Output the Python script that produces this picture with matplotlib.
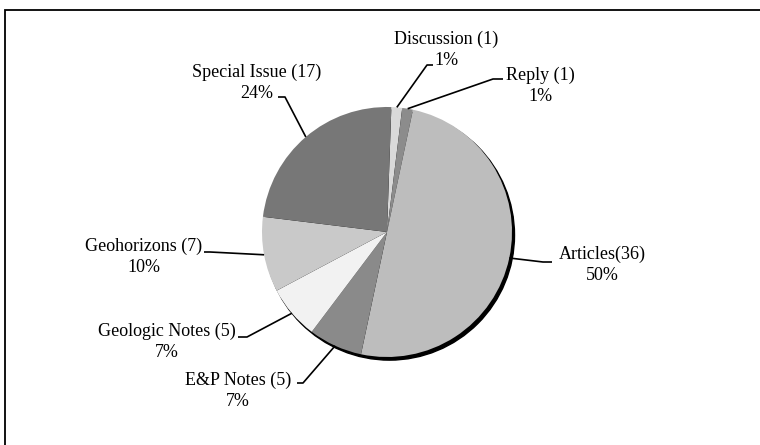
import matplotlib.pyplot as plt
import numpy as np
from matplotlib.patches import Circle, Rectangle

# Publication counts by type
categories = ["Discussion", "Reply", "Articles", "E&P Notes",
              "Geologic Notes", "Geohorizons", "Special Issue"]
label_names = ["Discussion (1)", "Reply (1)", "Articles(36)", "E&P Notes (5)",
               "Geologic Notes (5)", "Geohorizons (7)", "Special Issue (17)"]
counts = [1, 1, 36, 5, 5, 7, 17]
colors = ["#d9d9d9", "#8c8c8c", "#bdbdbd", "#8a8a8a",
          "#f2f2f2", "#c9c9c9", "#777777"]

W, H = 760, 445
CX, CY, R = 387, 232, 125   # pie centre and radius in pixels


def px(x, y):
    # pixel position -> data units of the pie axes
    return (x - CX) / R, (CY - y) / R


# label layout in pixels: text centre, elbow of the leader, end of the leader
layout = {
    "Discussion":     ((446, 50), (427, 65), (433, 65)),
    "Reply":          ((540, 86), (493, 79), (503, 79)),
    "Articles":       ((602, 265), (543, 262), (552, 262)),
    "E&P Notes":      ((238, 391), (303, 383), (297, 383)),
    "Geologic Notes": ((167, 342), (247, 337), (238, 337)),
    "Geohorizons":    ((144, 257), (210, 252), (204, 252)),
    "Special Issue":  ((257, 83), (285, 97), (278, 97)),
}

fig = plt.figure(figsize=(W / 100, H / 100), dpi=100)
ax = fig.add_axes([0, 0, 1, 1])

# shadow behind the pie
ax.add_patch(Circle((0.02, -0.025), 1.0, color="black", zorder=0))

wedges, _ = ax.pie(counts, colors=colors, startangle=88, counterclock=False,
                   radius=1.0, wedgeprops=dict(linewidth=0, zorder=1))

total = sum(counts)
for w, cat, name, n in zip(wedges, categories, label_names, counts):
    mid = np.deg2rad((w.theta1 + w.theta2) / 2)
    edge = (np.cos(mid), np.sin(mid))
    (tx, ty), elbow, end = layout[cat]
    ex, ey = px(*elbow)
    hx, hy = px(*end)
    ax.plot([edge[0], ex, hx], [edge[1], ey, hy], color="black", lw=1.2,
            zorder=3, solid_capstyle="butt")
    ax.text(*px(tx, ty), f"{name}\n{round(100 * n / total)}%",
            ha="center", va="center", multialignment="center",
            fontsize=13, family="Liberation Serif", linespacing=1.3,
            zorder=4)

ax.set_aspect("auto")
x0, y0 = px(0, H)
x1, y1 = px(W, 0)
ax.set_xlim(x0, x1)
ax.set_ylim(y0, y1)
ax.axis("off")

# outer frame (cropped on the right and bottom in the original)
fig.patches.append(Rectangle((5 / W, -0.1), 1.1, 1 - 10 / H + 0.1,
                             transform=fig.transFigure, fill=False,
                             edgecolor="black", linewidth=1.3))

fig.savefig("out.png", dpi=100)
